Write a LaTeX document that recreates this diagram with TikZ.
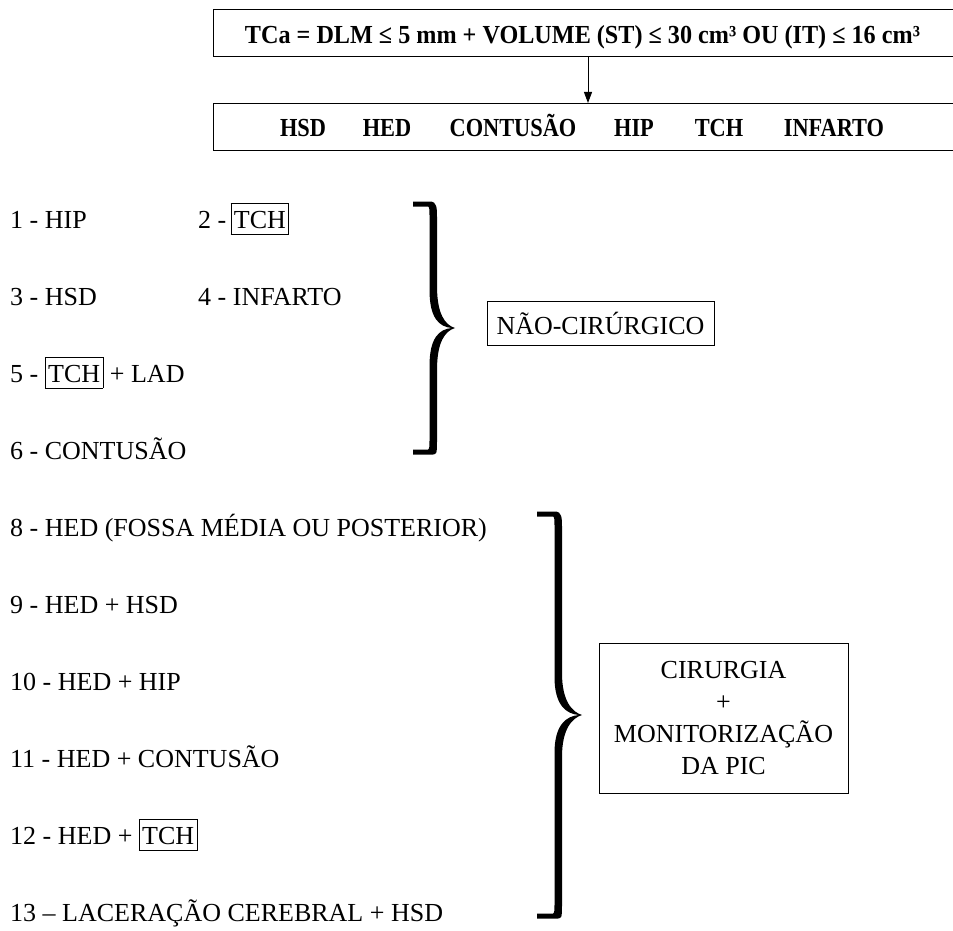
\documentclass[tikz,border=0pt]{standalone}
\usepackage{graphicx}
\usepackage{fontspec}
\setmainfont{Liberation Serif}
\newfontfamily\condfont[FakeStretch=0.86]{Liberation Serif}
\usetikzlibrary{arrows.meta}

% framed term inside a line of text
\newcommand\tchframe[1]{{\setlength\fboxsep{2.5pt}\setlength\fboxrule{0.8pt}\fbox{\rule[-3pt]{0pt}{25pt}#1}}}

% filled curly brace: #1 left end of hooks, #2 top, #3 bottom, #4 stem x, #5 tip x
\newcommand\drawcurly[5]{%
  \fill ({#1},{#2-2.5}) -- ({#4-3},{#2-2.5})
    .. controls ({#4+4},{#2-2.5}) and ({#4+4},{#2+4}) .. ({#4+4},{#2+14})
    -- ({#4+4},{(#2+#3)/2-42})
    .. controls ({#4+4},{(#2+#3)/2-14}) and ({#5-10},{(#2+#3)/2-3}) .. ({#5},{(#2+#3)/2})
    .. controls ({#5-10},{(#2+#3)/2+3}) and ({#4+4},{(#2+#3)/2+14}) .. ({#4+4},{(#2+#3)/2+42})
    -- ({#4+4},{#3-14})
    .. controls ({#4+4},{#3+4}) and ({#4+4},{#3+2.5}) .. ({#4-3},{#3+2.5})
    -- ({#1},{#3+2.5}) -- ({#1},{#3-2.5}) -- ({#4-5},{#3-2.5})
    .. controls ({#4-3.5},{#3-2.5}) and ({#4-3.5},{#3-6}) .. ({#4-3.5},{#3-14})
    -- ({#4-3.5},{(#2+#3)/2+38})
    .. controls ({#4-3.5},{(#2+#3)/2+10}) and ({#5-16},{(#2+#3)/2+1}) .. ({#5-3},{(#2+#3)/2})
    .. controls ({#5-16},{(#2+#3)/2-1}) and ({#4-3.5},{(#2+#3)/2-10}) .. ({#4-3.5},{(#2+#3)/2-38})
    -- ({#4-3.5},{#2+14})
    .. controls ({#4-3.5},{#2+6}) and ({#4-3.5},{#2+2.5}) .. ({#4-5},{#2+2.5})
    -- ({#1},{#2+2.5}) -- cycle;}

\begin{document}
\begin{tikzpicture}[x=1pt,y=-1pt,
  every node/.style={inner sep=0pt, font=\fontsize{26}{32}\selectfont},
  frame/.style={draw, line width=0.9pt},
  hdr/.style={font=\fontsize{26}{32}\selectfont\condfont\bfseries, anchor=base},
  item/.style={anchor=base west},
  conn/.style={line width=0.9pt, -{Triangle[length=11pt,width=8pt]}}]
\clip (0,0) rectangle (953,931);

% criteria box
\node[frame, minimum width=800pt, minimum height=47pt, anchor=north west] (topbox) at (213,9) {};
\node[hdr] (toptext) at (582.5,44) {\resizebox{675pt}{\height}{TCa = DLM ≤ 5 mm + VOLUME (ST) ≤ 30 cm³ OU (IT) ≤ 16 cm³}};

% lesion types box
\node[frame, minimum width=800pt, minimum height=47pt, anchor=north west] (botbox) at (213,103) {};
\node[hdr] (w1) at (303,137) {HSD};
\node[hdr] (w2) at (387,137) {HED};
\node[hdr] (w3) at (513,137) {CONTUSÃO};
\node[hdr] (w4) at (634,137) {HIP};
\node[hdr] (w5) at (719,137) {TCH};
\node[hdr] (w6) at (834,137) {INFARTO};

\coordinate (ax) at (588,0);
\draw[conn] (topbox.south -| ax) -- (botbox.north -| ax);

% non-surgical group
\node[item] (r1) at (10,228) {1 - HIP};
\node[item] (r2) at (198,228) {2 -\,\tchframe{TCH}};
\node[item] (r3) at (10,305) {3 - HSD};
\node[item] (r4) at (198,305) {4 - INFARTO};
\node[item] (r5) at (10,382) {5 - \tchframe{TCH} + LAD};
\node[item] (r6) at (10,459) {6 - CONTUSÃO};
\drawcurly{413}{204}{452}{433}{455}
\node[frame, minimum width=227pt, minimum height=44pt] (nc) at (600.5,323) {NÃO-CIRÚRGICO};

% surgical group
\node[item] (r8) at (10,536) {8 - HED (FOSSA MÉDIA OU POSTERIOR)};
\node[item] (r9) at (10,613) {9 - HED + HSD};
\node[item] (r10) at (10,690) {10 - HED + HIP};
\node[item] (r11) at (10,767) {11 - HED + CONTUSÃO};
\node[item] (r12) at (10,844) {12 - HED + \tchframe{TCH}};
\node[item] (r13) at (10,921) {13 – LACERAÇÃO CEREBRAL + HSD};
\drawcurly{537}{514}{916}{558}{582}
\node[frame, minimum width=249pt, minimum height=150pt, align=center] (cir) at (723.5,718) {CIRURGIA\\+\\MONITORIZAÇÃO\\DA PIC};
\end{tikzpicture}
\end{document}
